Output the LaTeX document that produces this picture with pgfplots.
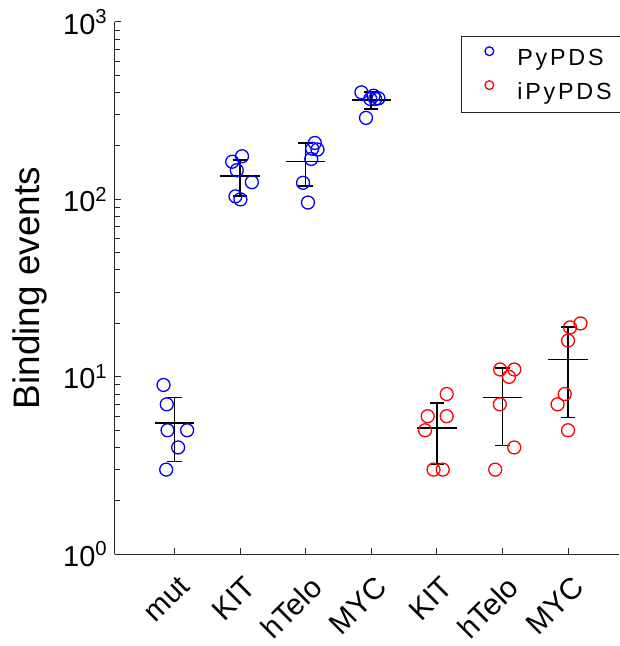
\documentclass[border=0pt]{standalone}
\usepackage{fontspec}
\setmainfont{Liberation Sans}
\newfontfamily\legfont[LetterSpace=12]{Liberation Sans}
\usepackage{pgfplots}
\pgfplotsset{compat=1.18}
\definecolor{axgray}{rgb}{0.15,0.15,0.15}
\begin{document}
\begin{tikzpicture}
\begin{semilogyaxis}[
  scale only axis,
  width=253pt, height=267pt,
  xmin=0.088, xmax=7.778,
  ymin=1, ymax=1000,
  axis x line*=bottom, axis y line*=left,
  axis line style={axgray, line width=0.5pt},
  tick style={axgray, line width=0.5pt},
  tick align=inside,
  major tick length=3pt, minor tick length=2.6pt,
  xtick={1,2,3,4,5,6,7},
  xticklabels={mut,KIT,hTelo,MYC,KIT,hTelo,MYC},
  ytick={1,10,100,1000},
  yticklabels={10\textsuperscript{0},10\textsuperscript{1},10\textsuperscript{2},10\textsuperscript{3}},
  ticklabel style={font=\fontsize{14.5}{17}\selectfont, text=black},
  xticklabel style={rotate=45, anchor=north east, inner sep=0pt, xshift=-6pt, yshift=-8pt,
     font=\fontsize{15}{18}\selectfont},
  ylabel={Binding events},
  ylabel style={font=\fontsize{18.5}{21}\selectfont, at={(axis description cs:-0.168,0.5)}, anchor=center},
  legend style={at={(1.008,0.974)}, anchor=north east, draw=axgray, line width=0.5pt,
    font=\legfont\fontsize{11.7}{14}\selectfont, inner xsep=5.5pt, inner ysep=2pt, row sep=0pt,
    column sep=0pt,
    nodes={inner xsep=0pt, inner ysep=0pt, text height=12.6pt, text depth=4.4pt}},
  legend cell align=left,
  legend image code/.code={\path[draw=none, fill=none] (0pt,0pt) -- (22.5pt,0pt);
     \draw[#1, mark size=2.2pt] plot coordinates {(8.5pt,3pt)};},
  unbounded coords=jump,
  clip=false,
]
\addplot[only marks, mark=o, mark size=3.25pt, draw=blue, mark options={line width=0.65pt}]
coordinates {
(0.833,9)(0.883,7)(0.894,5)(1.193,5)(1.056,4)(0.874,3)
(2.03,175)(1.88,163)(1.95,146)(2.18,125)(1.93,104)(2.005,100)
(3.14,208)(3.10,193)(3.18,191)(3.085,169)(2.96,124)(3.035,96)
(3.85,401)(4.035,384)(3.985,368)(4.06,368)(4.11,371)(3.92,288)
};
\addlegendentry{PyPDS}
\addplot[only marks, mark=o, mark size=3.25pt, draw=red, mark options={line width=0.65pt}]
coordinates {
(5.15,8)(4.86,6)(5.15,6)(4.82,5)(4.95,3)(5.09,3)
(5.965,11)(6.18,11)(6.1,10)(5.96,7)(6.18,4)(5.89,3)
(7.03,19)(7.19,20)(7,16)(6.95,8)(6.84,7)(7,5)
};
\addlegendentry{iPyPDS}
\addplot[black, line width=0.8pt, forget plot] coordinates {
(0.7,5.5)(1.3,5.5) (nan,nan) (1,3.332)(1,7.668) (nan,nan) (0.89,7.668)(1.11,7.668) (nan,nan) (0.89,3.332)(1.11,3.332) (nan,nan)
(1.7,135.5)(2.3,135.5) (nan,nan) (2,104.6)(2,166.4) (nan,nan) (1.89,166.4)(2.11,166.4) (nan,nan) (1.89,104.6)(2.11,104.6) (nan,nan)
(2.7,163.5)(3.3,163.5) (nan,nan) (3,119.3)(3,207.7) (nan,nan) (2.89,207.7)(3.11,207.7) (nan,nan) (2.89,119.3)(3.11,119.3) (nan,nan)
(3.7,363.3)(4.3,363.3) (nan,nan) (4,324.3)(4,402.3) (nan,nan) (3.89,402.3)(4.11,402.3) (nan,nan) (3.89,324.3)(4.11,324.3) (nan,nan)
(4.7,5.167)(5.3,5.167) (nan,nan) (5,3.226)(5,7.107) (nan,nan) (4.89,7.107)(5.11,7.107) (nan,nan) (4.89,3.226)(5.11,3.226) (nan,nan)
(5.7,7.667)(6.3,7.667) (nan,nan) (6,4.107)(6,11.226) (nan,nan) (5.89,11.226)(6.11,11.226) (nan,nan) (5.89,4.107)(6.11,4.107) (nan,nan)
(6.7,12.5)(7.3,12.5) (nan,nan) (7,5.9)(7,19.1) (nan,nan) (6.89,19.1)(7.11,19.1) (nan,nan) (6.89,5.9)(7.11,5.9)
};
\end{semilogyaxis}
\pgfresetboundingbox
\path ([xshift=-57.5pt,yshift=-46pt]current axis.south west) rectangle ([yshift=11pt]current axis.north east);
\end{tikzpicture}
\end{document}
